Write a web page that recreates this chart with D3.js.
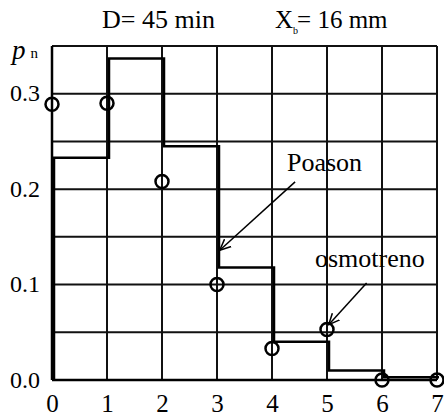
<!DOCTYPE html>
<html>
<head>
<meta charset="utf-8">
<script src="https://cdn.jsdelivr.net/npm/d3@7"></script>
<style>
  body { margin: 0; background: #fff; }
</style>
</head>
<body>
<svg id="chart" width="444" height="419"></svg>
<script>
// poisson step values for n = 0..6 (each drawn over [n, n+1])
var poissonN = [0, 1, 2, 3, 4, 5, 6];
var poissonP = [0.233, 0.337, 0.245, 0.118, 0.040, 0.010, 0.003];
// observed frequencies (circles)
var obsN = [0, 1, 2, 3, 4, 5, 6, 7];
var obsP = [0.289, 0.290, 0.208, 0.100, 0.033, 0.053, 0.0, 0.0];
var xTicks = [0, 1, 2, 3, 4, 5, 6, 7];
var yTicks = [0.0, 0.1, 0.2, 0.3];
var yGrid = [0, 0.05, 0.1, 0.15, 0.2, 0.25, 0.3, 0.35];
// annotation arrows, in data units: label anchor -> tip
var arrowPoason = [[4.42, 0.2076], [3.05, 0.136]];
var arrowOsmo = [[5.72, 0.1016], [5.03, 0.058]];

var serif = "'Liberation Serif', 'Times New Roman', Times, serif";

var svg = d3.select("#chart").attr("font-family", serif);

var x = d3.scaleLinear().domain([0, 7]).range([52, 437]);
var y = d3.scaleLinear().domain([0, 0.35]).range([380, 46]);

// arrow head
svg.append("defs").append("marker")
  .attr("id", "arr")
  .attr("viewBox", "0 -6 12 12")
  .attr("refX", 11).attr("refY", 0)
  .attr("markerWidth", 12).attr("markerHeight", 12)
  .attr("markerUnits", "userSpaceOnUse")
  .attr("orient", "auto")
  .append("path")
  .attr("d", "M0,-5L11,0L0,5")
  .style("fill", "none")
  .style("stroke", "#000")
  .style("stroke-width", 1.5);

// grid
var grid = svg.append("g");
grid.selectAll(".vg").data(xTicks).enter().append("line")
  .attr("x1", function(d) { return x(d); })
  .attr("x2", function(d) { return x(d); })
  .attr("y1", y(0.35)).attr("y2", y(0))
  .style("stroke", "#111").style("stroke-width", 2);
grid.selectAll(".hg").data(yGrid).enter().append("line")
  .attr("x1", x(0)).attr("x2", x(7))
  .attr("y1", function(d) { return y(d); })
  .attr("y2", function(d) { return y(d); })
  .style("stroke", "#111").style("stroke-width", 2);

// frame a bit heavier on left and bottom
svg.append("line").attr("x1", x(0)).attr("x2", x(0)).attr("y1", y(0.35)).attr("y2", y(0))
  .style("stroke", "#000").style("stroke-width", 2.5);
svg.append("line").attr("x1", x(0)).attr("x2", x(7)).attr("y1", y(0)).attr("y2", y(0))
  .style("stroke", "#000").style("stroke-width", 2.5);

// step line
var stepPts = [[0, 0]];
poissonN.forEach(function(n, i) { stepPts.push([n, poissonP[i]]); });
stepPts.push([7, poissonP[poissonP.length - 1]]);
var stepLine = d3.line()
  .x(function(d) { return x(d[0]) + 2; })
  .y(function(d) { return y(d[1]); })
  .curve(d3.curveStepAfter);
svg.append("path")
  .attr("d", stepLine(stepPts))
  .style("fill", "none")
  .style("stroke", "#000")
  .style("stroke-width", 2.5);

// observed circles
svg.selectAll(".obs").data(obsN).enter().append("circle")
  .attr("cx", function(d) { return x(d); })
  .attr("cy", function(d, i) { return y(obsP[i]); })
  .attr("r", 6.5)
  .style("fill", "none")
  .style("stroke", "#000")
  .style("stroke-width", 2.5);

// y axis labels
var yAxis = d3.axisLeft(y).tickValues(yTicks).tickSize(0).tickPadding(12)
  .tickFormat(d3.format(".1f"));
var gy = svg.append("g").attr("transform", "translate(" + x(0) + ",0)").call(yAxis)
  .attr("font-family", serif).attr("font-size", 24);
gy.select(".domain").remove();
gy.selectAll("text").attr("dy", "0.3em");

// x axis labels
var xAxis = d3.axisBottom(x).tickValues(xTicks).tickSize(0).tickPadding(14)
  .tickFormat(d3.format("d"));
var gx = svg.append("g").attr("transform", "translate(0," + y(0) + ")").call(xAxis)
  .attr("font-family", serif).attr("font-size", 25);
gx.select(".domain").remove();

// axis title p_n
var pt = svg.append("text").attr("x", 12).attr("y", 59).attr("font-size", 27);
pt.append("tspan").text("p").style("font-style", "italic");
pt.append("tspan").text("n").attr("dx", 5).attr("dy", -1).attr("font-size", 15);

// header
svg.append("text").attr("x", 102).attr("y", 28).attr("font-size", 26).text("D= 45 min");
var hx = svg.append("text").attr("x", 275).attr("y", 28).attr("font-size", 25);
hx.append("tspan").text("X");
hx.append("tspan").text("b").attr("dx", 0).attr("dy", 6).attr("font-size", 10);
hx.append("tspan").text("= 16 mm").attr("dx", -1).attr("dy", -6);

// annotations
svg.append("text").attr("x", 287).attr("y", 171).attr("font-size", 26).text("Poason");
svg.append("text").attr("x", 315).attr("y", 267).attr("font-size", 26).text("osmotreno");
[arrowPoason, arrowOsmo].forEach(function(a) {
  svg.append("line")
    .attr("x1", x(a[0][0])).attr("y1", y(a[0][1]))
    .attr("x2", x(a[1][0])).attr("y2", y(a[1][1]))
    .attr("marker-end", "url(#arr)")
    .style("stroke", "#000").style("stroke-width", 1.5);
});
</script>
</body>
</html>
